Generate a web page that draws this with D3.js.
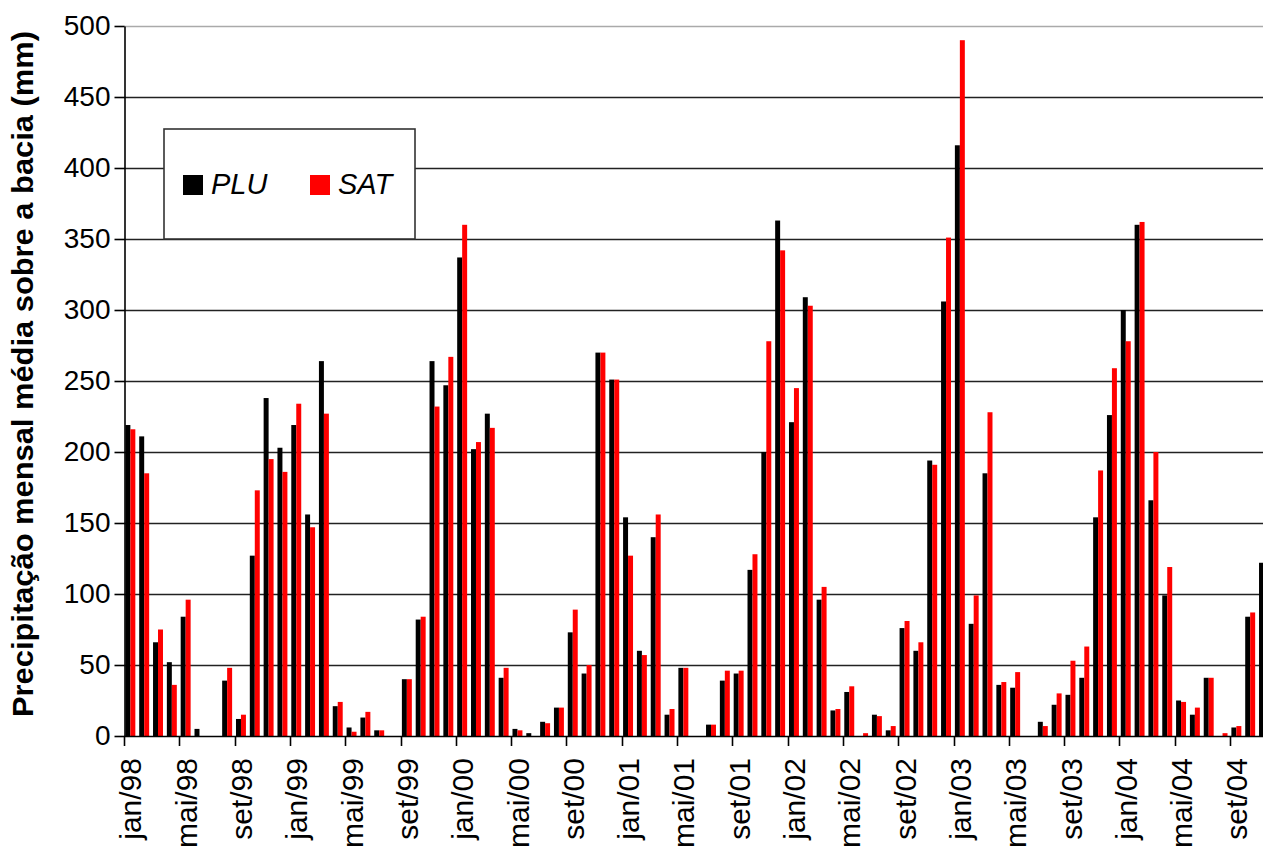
<!DOCTYPE html>
<html><head><meta charset="utf-8">
<script src="https://cdn.jsdelivr.net/npm/d3@7"></script>
<style>html,body{margin:0;padding:0;background:#fff;overflow:hidden}</style>
</head><body>
<svg id="c" width="1263" height="848"></svg>
<script>
const monthNames = ["jan","fev","mar","abr","mai","jun","jul","ago","set","out","nov","dez"];
const years = ["98","99","00","01","02","03","04"];
const categories = years.flatMap(yy => monthNames.map(m => m + "/" + yy));
const seriesNames = ["PLU", "SAT"];
const seriesColors = ["#000000", "#ff0000"];
const plu = [
  219,211,66,52,84,5,0,39,12,127,238,203,
  219,156,264,21,6,13,4,0,40,82,264,247,
  337,202,227,41,5,2,10,20,73,44,270,251,
  154,60,140,15,48,0,8,39,44,117,200,363,
  221,309,96,18,31,0,15,4,76,60,194,306,
  416,79,185,36,34,0,10,22,29,41,154,226,
  300,360,166,99,25,15,41,0,6,84,122,null
];
const sat = [
  216,185,75,36,96,0,0,48,15,173,195,186,
  234,147,227,24,3,17,4,0,40,84,232,267,
  360,207,217,48,4,0,9,20,89,50,270,251,
  127,57,156,19,48,0,8,46,46,128,278,342,
  245,303,105,19,35,2,14,7,81,66,191,351,
  490,99,228,38,45,0,7,30,53,63,187,259,
  278,362,200,119,24,20,41,2,7,87,null,null
];
const yTicks = [0,50,100,150,200,250,300,350,400,450,500];
const yTitle = "Precipitação mensal média sobre a bacia (mm)";

const W = 1263, H = 848;
const plotLeft = 124, plotTop = 26, plotBottom = 736, step = 13.825;
const svg = d3.select("#c");

const x = d3.scaleBand().domain(categories).range([plotLeft, plotLeft + step * categories.length]).padding(0);
const xs = d3.scaleBand().domain(seriesNames).range([0.1 * step, 0.82 * step]).padding(0);
const y = d3.scaleLinear().domain([0, 500]).range([plotBottom, plotTop]);
const color = d3.scaleOrdinal().domain(seriesNames).range(seriesColors);

// gridlines
svg.append("g").selectAll("line").data(yTicks.filter(v => v > 0)).join("line")
  .attr("x1", plotLeft).attr("x2", W)
  .attr("y1", d => Math.round(y(d)) + 0.5).attr("y2", d => Math.round(y(d)) + 0.5)
  .attr("stroke", d => d === 500 ? "#aaaaaa" : "#222")
  .attr("stroke-width", 1.6);

// bars
const rows = categories.map((c, i) => ({c, PLU: plu[i], SAT: sat[i]}));
const g = svg.append("g");
g.selectAll("g").data(rows).join("g")
  .attr("transform", d => `translate(${x(d.c)},0)`)
  .selectAll("rect")
  .data(d => seriesNames.map(s => ({s, v: d[s]})).filter(e => e.v != null && e.v > 0))
  .join("rect")
  .attr("x", e => xs(e.s))
  .attr("width", xs.bandwidth())
  .attr("y", e => y(e.v))
  .attr("height", e => y(0) - y(e.v))
  .attr("fill", e => color(e.s));

// y axis
const yAxis = d3.axisLeft(y).tickValues(yTicks).tickSize(10).tickSizeOuter(0).tickPadding(4);
const ya = svg.append("g").attr("transform", `translate(${plotLeft + 0.5},0)`).call(yAxis);
ya.select(".domain").attr("stroke", "#000").attr("stroke-width", 1.6);
ya.selectAll(".tick line").attr("stroke", "#000").attr("stroke-width", 1.6);
ya.selectAll(".tick text").attr("font-family", "Arial, 'Liberation Sans', sans-serif")
  .attr("font-size", 28).attr("fill", "#000");

// x axis
svg.append("line").attr("x1", plotLeft).attr("x2", W)
  .attr("y1", plotBottom + 0.5).attr("y2", plotBottom + 0.5).attr("stroke", "#000").attr("stroke-width", 1.6);
const tickCats = categories.filter((c, i) => i % 4 === 0);
svg.append("g").selectAll("line").data(tickCats).join("line")
  .attr("x1", d => Math.round(x(d)) + 0.5).attr("x2", d => Math.round(x(d)) + 0.5)
  .attr("y1", plotBottom).attr("y2", plotBottom + 10)
  .attr("stroke", "#000").attr("stroke-width", 1.6);
svg.append("g").selectAll("text").data(tickCats).join("text")
  .attr("transform", d => `translate(${x(d) + x.bandwidth() / 2},758) rotate(-90)`)
  .attr("text-anchor", "end").attr("dy", "0.35em")
  .attr("font-family", "Arial, 'Liberation Sans', sans-serif")
  .attr("font-size", 30).attr("fill", "#000")
  .text(d => d);

// y title
svg.append("text")
  .attr("transform", `translate(23,${(30 + 718) / 2}) rotate(-90)`)
  .attr("text-anchor", "middle").attr("dy", "0.35em")
  .attr("font-family", "Arial, 'Liberation Sans', sans-serif")
  .attr("font-weight", "bold").attr("font-size", 29).attr("fill", "#000")
  .attr("textLength", 686).attr("lengthAdjust", "spacingAndGlyphs")
  .text(yTitle);

// legend
const lg = svg.append("g");
lg.append("rect").attr("x", 164).attr("y", 129).attr("width", 251).attr("height", 110)
  .attr("fill", "#fff").attr("stroke", "#333").attr("stroke-width", 1.6);
const legX = [183, 310];
seriesNames.forEach((s, i) => {
  lg.append("rect").attr("x", legX[i]).attr("y", 175).attr("width", 20).attr("height", 20)
    .attr("fill", color(s));
  lg.append("text").attr("x", legX[i] + 28).attr("y", 194)
    .attr("font-family", "Arial, 'Liberation Sans', sans-serif")
    .attr("font-style", "italic").attr("font-size", 29).attr("fill", "#000")
    .text(s);
});
</script>
</body></html>
